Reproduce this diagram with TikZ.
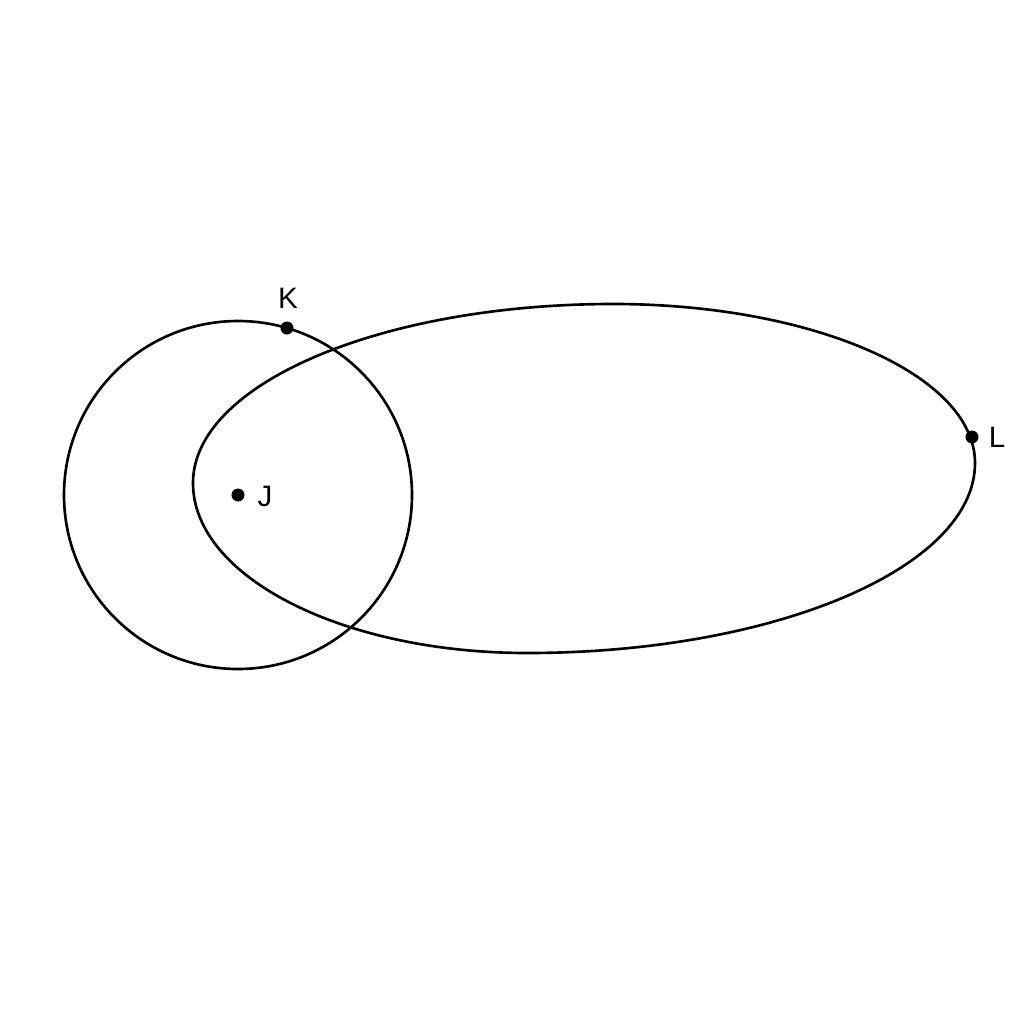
\documentclass[tikz,border=0pt]{standalone}
\usepackage{fontspec}
\setmainfont{Liberation Sans}
\usetikzlibrary{positioning}

\begin{document}
\begin{tikzpicture}[x=0.01cm,y=-0.01cm]
            \tikzstyle{every node}+=[inner sep=0pt, font=\fontsize{8.4}{10}\selectfont]
            \tikzstyle{dot}=[circle, fill=black, minimum size=0.13cm]
            \useasboundingbox (0,0) rectangle (1024,1024);
            \node [dot] (J) at (238,495) {};
            \node [dot] (K) at (287,328) {};
            \node [dot] (L) at (972,437) {};
            \node (Jlab) at (265,496) {J};
            \node (Klab) at (288,298) {K};
            \node (Llab) at (997,437) {L};
            \draw [black, line width=0.75pt] (J) circle (174);
            \draw [black, line width=0.75pt] (193,483) .. controls (193,384) and (381,304) .. (613,304)
                .. controls (813,304) and (975,375) .. (975,463)
                .. controls (975,568) and (774,653) .. (527,653)
                .. controls (343,653) and (193,577) .. cycle;
            \end{tikzpicture}
\end{document}
